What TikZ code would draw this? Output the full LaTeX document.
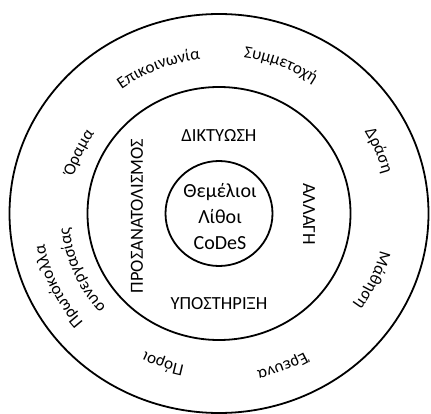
\documentclass[tikz,border=0pt]{standalone}
\usepackage{fontspec}
\setmainfont{Carlito}
\usetikzlibrary{decorations.text}
\newcommand\outerfnt{\fontsize{17}{20}\selectfont}
\tikzset{
  ring/.style={draw=black, line width=1.8pt},
  captext/.style={font=\fontsize{18.5}{20}\selectfont, inner sep=0pt},
  coretext/.style={font=\fontsize{20}{26}\selectfont, align=center, inner sep=0pt},
  arctext/.style={decorate, decoration={text along path, text align=center, text={|\outerfnt|#1}}}
}
\begin{document}
\begin{tikzpicture}[x=1pt,y=1pt]
\useasboundingbox (0,0) rectangle (431,413);
\def\cx{219}\def\cy{199.5}
\coordinate (c) at (\cx,\cy);
\draw[ring] (c) ellipse [x radius=209.5, y radius=199.5];
\draw[ring] (c) ellipse [x radius=131.5, y radius=126.5];
\draw[ring] (c) ellipse [x radius=53.5, y radius=52.5];
\node[coretext] (core) at (220,196) {Θεμέλιοι\\Λίθοι\\CoDeS};
\node[captext] (diktyosi) at (219,277) {ΔΙΚΤΥΩΣΗ};
\node[captext] (ypostirixi) at (219,109) {ΥΠΟΣΤΗΡΙΞΗ};
\node[captext, rotate=90] (prosan) at (137,197) {ΠΡΟΣΑΝΑΤΟΛΙΣΜΟΣ};
\node[captext, rotate=-90] (allagi) at (309,199) {ΑΛΛΑΓΗ};
\path[arctext={Επικοινωνία}] (c) ++(152:162.8 and 155) arc[start angle=152, end angle=72, x radius=162.8, y radius=155];
\path[arctext={Συμμετοχή}] (c) ++(108:166 and 158) arc[start angle=108, end angle=28, x radius=166, y radius=158];
\path[arctext={Δράση}] (c) ++(62:169 and 161) arc[start angle=62, end angle=-18, x radius=169, y radius=161];
\path[arctext={Μάθηση}] (c) ++(16:165.9 and 158) arc[start angle=16, end angle=-64, x radius=165.9, y radius=158];
\path[arctext={Έρευνα}] (c) ++(-28:169 and 161) arc[start angle=-28, end angle=-108, x radius=169, y radius=161];
\path[arctext={Πόροι}] (c) ++(-70:162.8 and 155) arc[start angle=-70, end angle=-150, x radius=162.8, y radius=155];
\path[arctext={Πρωτόκολλα}] (c) ++(245:177.5 and 169) arc[start angle=245, end angle=165, x radius=177.5, y radius=169];
\path[arctext={συνεργασίας}] (c) ++(243:150.2 and 143) arc[start angle=243, end angle=163, x radius=150.2, y radius=143];
\path[arctext={Όραμα}] (c) ++(196:150.2 and 143) arc[start angle=196, end angle=116, x radius=150.2, y radius=143];
\end{tikzpicture}
\end{document}
